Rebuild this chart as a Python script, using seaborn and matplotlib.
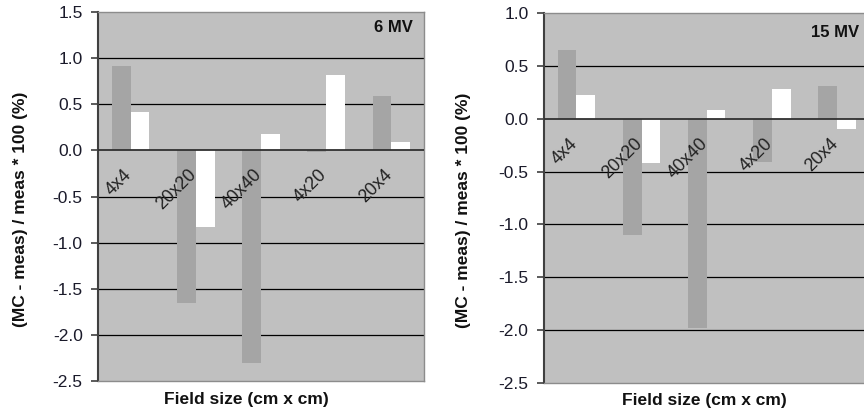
import matplotlib
matplotlib.use("Agg")
import matplotlib.pyplot as plt
import seaborn as sns
import pandas as pd

# ---- data ----
categories = ["4x4", "20x20", "40x40", "4x20", "20x4"]
series_names = ["Series 1", "Series 2"]
mv6_series1 = [0.92, -1.65, -2.30, -0.02, 0.59]
mv6_series2 = [0.42, -0.83, 0.18, 0.82, 0.09]
mv15_series1 = [0.65, -1.10, -1.98, -0.41, 0.31]
mv15_series2 = [0.23, -0.42, 0.08, 0.28, -0.10]
panel_titles = ["6 MV", "15 MV"]
yticks_6mv = [-2.5, -2.0, -1.5, -1.0, -0.5, 0.0, 0.5, 1.0, 1.5]
yticks_15mv = [-2.5, -2.0, -1.5, -1.0, -0.5, 0.0, 0.5, 1.0]
ylabel = "(MC - meas) / meas * 100 (%)"
xlabel = "Field size (cm x cm)"

sns.set_style("white")
plt.rcParams["font.family"] = ["Liberation Sans", "DejaVu Sans"]

BG = "#c0c0c0"
BAR_GRAY = "#a5a5a5"
BAR_WHITE = "#ffffff"


def make_df(s1, s2):
    rows = []
    for name, vals in zip(series_names, [s1, s2]):
        for c, v in zip(categories, vals):
            rows.append({"field": c, "series": name, "value": v})
    return pd.DataFrame(rows)


fig = plt.figure(figsize=(8.64, 4.15), dpi=100)
ax1 = fig.add_axes([0.1134, 0.0819, 0.3773, 0.8892])
ax2 = fig.add_axes([0.6293, 0.0778, 0.3773, 0.8901])

panels = [
    (ax1, make_df(mv6_series1, mv6_series2), yticks_6mv, panel_titles[0],
     (-0.215, 0.466), (0.455, -0.030), (0.966, 0.958)),
    (ax2, make_df(mv15_series1, mv15_series2), yticks_15mv, panel_titles[1],
     (-0.222, 0.466), (0.493, -0.029), (0.967, 0.948)),
]

for ax, df, yt, title, ylc, xlc, tpos in panels:
    ax.set_facecolor(BG)
    sns.barplot(data=df, x="field", y="value", hue="series",
                order=categories, hue_order=series_names,
                palette=[BAR_GRAY, BAR_WHITE], saturation=1,
                width=0.575, linewidth=0, legend=False, ax=ax, zorder=2)
    ax.set_ylim(yt[0], yt[-1])
    ax.set_xlim(-0.5, len(categories) - 0.5)
    ax.set_yticks(yt)
    ax.set_yticklabels([f"{v:.1f}" for v in yt])
    for v in yt[1:-1]:
        if v == 0:
            continue
        ax.axhline(v, color="#000000", lw=0.9, zorder=1)
    ax.axhline(0, color="#303030", lw=1.3, zorder=3)
    ax.tick_params(axis="x", length=0, labelbottom=False)
    ax.tick_params(axis="y", length=5, width=1.2, color="#404040",
                   pad=6, labelsize=12.5, labelcolor="#1a1a2a", left=True,
                   direction="out")
    for s in ["top", "right", "bottom"]:
        ax.spines[s].set_color("#8c8c8c")
        ax.spines[s].set_linewidth(1.0)
    ax.spines["left"].set_color("#404040")
    ax.spines["left"].set_linewidth(1.5)

    ax.set_ylabel(ylabel, fontsize=12.5, fontweight="bold", color="#111111")
    ax.yaxis.set_label_coords(*ylc)
    ax.set_xlabel(xlabel, fontsize=12.5, fontweight="bold", color="#111111")
    ax.xaxis.set_label_coords(*xlc)

    for i, c in enumerate(categories):
        ax.annotate(c, xy=(i, 0), xycoords="data", xytext=(3, -11.5),
                    textcoords="offset points", ha="right", va="top",
                    rotation=45, fontsize=13, color="#222222", zorder=4)

    ax.text(tpos[0], tpos[1], title, transform=ax.transAxes, ha="right",
            va="center", fontsize=12, fontweight="bold", color="#111111")

fig.savefig("out.png", dpi=100)
